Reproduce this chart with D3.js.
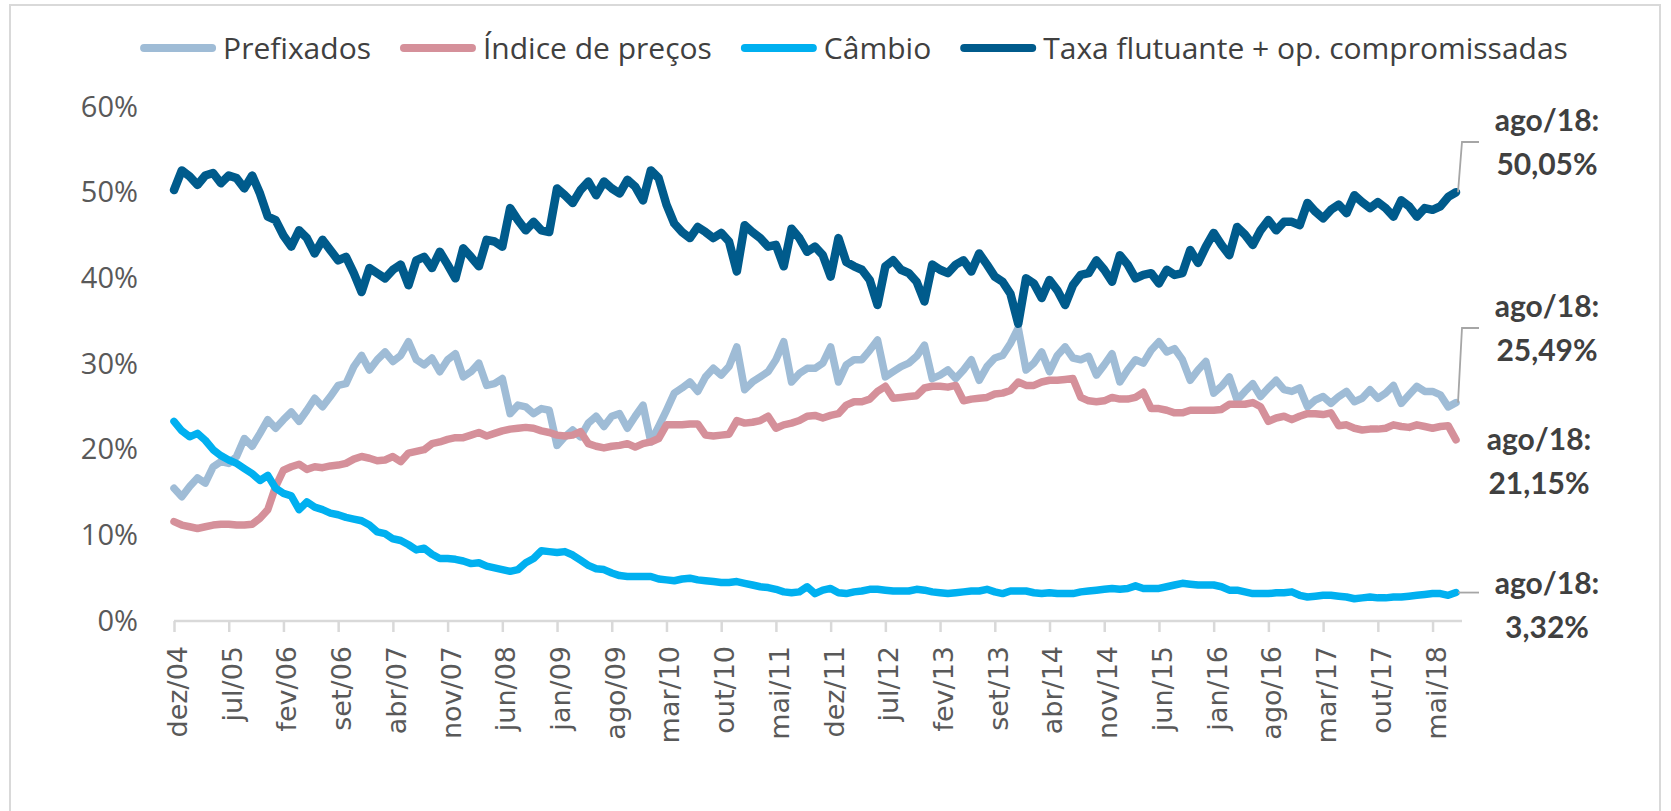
<!DOCTYPE html>
<html>
<head>
<meta charset="utf-8">
<script src="https://cdn.jsdelivr.net/npm/d3@7"></script>
<style>
  html, body { margin: 0; padding: 0; background: #fff; }
  svg { display: block; }
</style>
</head>
<body>
<div id="chart"></div>
<script>
// meses: dez/04 ... ago/18 (165 pontos)
const tickLabels = ["dez/04","jul/05","fev/06","set/06","abr/07","nov/07","jun/08","jan/09","ago/09","mar/10",
  "out/10","mai/11","dez/11","jul/12","fev/13","set/13","abr/14","nov/14","jun/15","jan/16",
  "ago/16","mar/17","out/17","mai/18"];
const yTicks = [0, 10, 20, 30, 40, 50, 60];

const prefixados = [
  15.5,14.5,15.7,16.7,16.1,18,18.6,18.4,19.2,21.3,
  20.4,21.9,23.5,22.5,23.5,24.4,23.3,24.6,26,25,
  26.2,27.5,27.7,29.7,31,29.3,30.5,31.4,30.3,31,
  32.6,30.5,29.9,30.7,29.1,30.5,31.2,28.5,29.1,30.1,
  27.5,27.7,28.3,24.2,25.2,25,24.2,24.8,24.6,20.5,
  21.5,22.3,21.5,23.1,23.9,22.7,23.9,24.2,22.5,23.9,
  25.2,20.9,22.7,24.6,26.6,27.2,27.9,26.8,28.5,29.5,
  28.7,29.7,32,27,27.9,28.5,29.1,30.5,32.6,27.9,
  28.9,29.5,29.5,30.1,32,27.9,29.9,30.5,30.5,31.6,
  32.8,28.5,29.1,29.7,30.1,30.9,32.2,28.3,28.7,29.3,
  28.3,29.3,30.5,28.1,29.7,30.7,31,32.4,34.2,29.3,
  30.1,31.4,29.1,31,32,30.7,30.5,30.9,28.7,29.9,
  31.2,27.9,29.3,30.5,30.1,31.6,32.6,31.4,31.8,30.5,
  28.1,29.3,30.3,26.6,27.4,28.5,25.8,26.8,27.7,26.2,
  27.2,28.1,27,26.8,27.2,25,25.8,26.2,25.4,26.2,
  26.8,25.6,26,27,26,26.6,27.5,25.4,26.4,27.4,
  26.8,26.8,26.4,25,25.49
];
const indicePrecos = [
  11.6,11.2,11,10.8,11,11.2,11.3,11.3,11.2,11.2,
  11.3,12,13,15.7,17.6,18,18.3,17.7,18,17.9,
  18.1,18.2,18.4,18.9,19.2,19,18.7,18.8,19.2,18.6,
  19.6,19.8,20,20.7,20.9,21.2,21.4,21.4,21.7,22,
  21.6,21.9,22.2,22.4,22.5,22.6,22.5,22.2,22,21.7,
  21.6,21.7,22.1,20.7,20.4,20.2,20.4,20.5,20.7,20.3,
  20.7,20.9,21.3,22.9,22.9,22.9,23,23,21.7,21.6,
  21.7,21.8,23.4,23.1,23.2,23.4,23.9,22.5,22.9,23.1,
  23.4,23.9,24,23.7,24,24.2,25.2,25.6,25.6,25.9,
  26.8,27.4,26,26.1,26.2,26.3,27.2,27.4,27.4,27.3,
  27.5,25.7,25.9,26,26.1,26.5,26.6,26.9,27.9,27.5,
  27.5,27.9,28.1,28.1,28.2,28.3,26.1,25.7,25.6,25.7,
  26.1,25.9,25.9,26.1,26.7,24.8,24.8,24.6,24.3,24.3,
  24.6,24.6,24.6,24.6,24.7,25.3,25.3,25.3,25.5,25,
  23.3,23.7,23.9,23.5,23.9,24.2,24.2,24.1,24.3,22.8,
  22.9,22.5,22.3,22.4,22.4,22.5,22.9,22.7,22.6,22.9,
  22.7,22.5,22.7,22.8,21.15
];
const cambio = [
  23.3,22.2,21.5,21.9,21.1,20,19.3,18.8,18.4,17.8,
  17.2,16.4,17,15.5,14.9,14.6,13,13.9,13.3,13,
  12.6,12.4,12.1,11.9,11.7,11.2,10.4,10.2,9.6,9.4,
  8.9,8.3,8.5,7.8,7.3,7.3,7.2,7,6.7,6.8,
  6.4,6.2,6,5.8,6,6.8,7.3,8.2,8.1,8,
  8.1,7.7,7.1,6.5,6.1,6,5.6,5.3,5.2,5.2,
  5.2,5.2,4.9,4.8,4.7,4.9,5,4.8,4.7,4.6,
  4.5,4.5,4.6,4.4,4.2,4,3.9,3.7,3.4,3.3,
  3.4,4,3.2,3.6,3.8,3.3,3.2,3.4,3.5,3.7,
  3.7,3.6,3.5,3.5,3.5,3.7,3.6,3.4,3.3,3.2,
  3.3,3.4,3.5,3.5,3.7,3.4,3.2,3.5,3.5,3.5,
  3.3,3.2,3.3,3.2,3.2,3.2,3.4,3.5,3.6,3.7,
  3.8,3.7,3.8,4.1,3.8,3.8,3.8,4,4.2,4.4,
  4.3,4.2,4.2,4.2,4,3.6,3.6,3.4,3.2,3.2,
  3.2,3.3,3.3,3.4,3,2.8,2.9,3,3,2.9,
  2.8,2.6,2.7,2.8,2.7,2.7,2.8,2.8,2.9,3,
  3.1,3.2,3.2,3,3.32
];
const taxaFlutuante = [
  50.3,52.6,51.9,50.9,52,52.3,51.1,52,51.7,50.5,
  52,49.9,47.2,46.8,45,43.7,45.6,44.7,42.9,44.5,
  43.3,42.1,42.5,40.6,38.4,41.2,40.6,40,41,41.6,
  39.2,42.1,42.5,41.2,43.1,41.6,40,43.5,42.5,41.4,
  44.5,44.3,43.7,48.2,46.8,45.6,46.6,45.6,45.4,50.5,
  49.7,48.8,50.3,51.3,49.7,51.3,50.5,49.9,51.5,50.7,
  49.1,52.6,51.7,48.6,46.4,45.4,44.7,46,45.4,44.7,
  45.3,44.3,40.8,46.2,45.4,44.7,43.7,43.9,41.4,45.8,
  44.7,43.1,43.7,42.7,40.2,44.7,41.9,41.4,41,39.8,
  36.9,41.4,42.1,41,40.6,39.6,37.3,41.6,41,40.6,
  41.6,42.1,40.8,42.9,41.6,40.2,39.6,38.2,34.7,40,
  39.4,37.7,39.8,38.6,36.9,39.2,40.4,40.6,42.1,41,
  39.6,42.7,41.6,40,40.4,40.6,39.4,41,40.4,40.6,
  43.3,41.8,43.7,45.3,43.9,42.7,46,45.1,43.9,45.6,
  46.8,45.6,46.6,46.6,46.2,48.8,47.8,47,48,48.6,
  47.6,49.7,48.9,48.2,48.9,48.2,47.2,49.1,48.4,47.2,
  48.2,48,48.4,49.5,50.05
];

const seriesNames = ["Prefixados", "Índice de preços", "Câmbio", "Taxa flutuante + op. compromissadas"];
const seriesColors = ["#9fbcd6", "#d5909a", "#00b0f0", "#005b8c"];
const seriesValues = [prefixados, indicePrecos, cambio, taxaFlutuante];

// rótulos do último ponto (ago/18)
const lastLabels = ["25,49%", "21,15%", "3,32%", "50,05%"];

const W = 1671, H = 811;
const svg = d3.select("#chart").append("svg")
  .attr("width", W).attr("height", H);

// moldura
svg.append("rect")
  .attr("x", 10).attr("y", 5).attr("width", 1650).attr("height", 830)
  .attr("fill", "none").attr("stroke", "#d9d9d9").attr("stroke-width", 2);

const n = prefixados.length;
const x = d3.scaleLinear().domain([0, n - 1]).range([174, 1456]);
const y = d3.scaleLinear().domain([0, 60]).range([621, 107]);

// eixo y
const yAxis = svg.append("g")
  .attr("transform", "translate(138,0)")
  .call(d3.axisLeft(y).tickValues(yTicks).tickSize(0).tickPadding(0).tickFormat(d => d + "%"));
yAxis.select(".domain").remove();
yAxis.selectAll("text")
  .attr("fill", "#595959")
  .style("font-family", "'Open Sans', sans-serif")
  .style("font-size", "29px");

// eixo x
const tickIdx = tickLabels.map((d, i) => i * 7);
const xAxis = svg.append("g")
  .attr("transform", "translate(0,621)")
  .call(d3.axisBottom(x).tickValues(tickIdx).tickSize(11).tickSizeOuter(0)
    .tickFormat((d, i) => tickLabels[i]));
xAxis.select(".domain").attr("stroke", "#d9d9d9").attr("stroke-width", 2.5)
  .attr("d", `M${x(0)},0H${x(n - 1) + 6}`);
xAxis.selectAll(".tick line").attr("stroke", "#d9d9d9").attr("stroke-width", 2.5);
xAxis.selectAll(".tick text")
  .attr("fill", "#595959")
  .attr("text-anchor", "end")
  .attr("transform", "translate(3,25) rotate(-90)")
  .attr("x", 0).attr("y", 0).attr("dy", "0.35em")
  .style("font-family", "'DejaVu Sans', sans-serif")
  .style("font-size", "27px");

// linhas
const line = d3.line().x((d, i) => x(i)).y(d => y(d));
svg.append("g").selectAll("path")
  .data(seriesValues)
  .join("path")
  .attr("d", line)
  .attr("fill", "none")
  .attr("stroke", (d, i) => seriesColors[i])
  .attr("stroke-width", (d, i) => i === 3 ? 8.5 : 7.5)
  .attr("stroke-linejoin", "round")
  .attr("stroke-linecap", "round");

// legenda
const legend = svg.append("g").attr("transform", "translate(0,48)");
const items = [];
seriesNames.forEach((name, i) => {
  const g = legend.append("g");
  g.append("line")
    .attr("x1", 4).attr("x2", 72).attr("y1", 0).attr("y2", 0)
    .attr("stroke", seriesColors[i]).attr("stroke-width", 8).attr("stroke-linecap", "round");
  const t = g.append("text")
    .attr("x", 83).attr("y", 0).attr("dy", "0.35em")
    .attr("fill", "#404040")
    .style("font-family", "'Open Sans', sans-serif")
    .style("font-size", "30px")
    .text(name);
  items.push({ g, w: 83 + t.node().getComputedTextLength() });
});
const gap = 29;
const totalW = d3.sum(items, d => d.w) + gap * (items.length - 1);
let lx = 854 - totalW / 2;
items.forEach(it => {
  it.g.attr("transform", `translate(${lx},0)`);
  lx += it.w + gap;
});

// anotações ago/18
const xe = x(n - 1);
const labelFont = "'Lato', 'Open Sans', sans-serif";
const ann = [
  { s: 3, top: 131, lead: 142, cx: 1547 },
  { s: 0, top: 317, lead: 328, cx: 1547 },
  { s: 1, top: 450, lead: null, cx: 1539 },
  { s: 2, top: 594, lead: 604, cx: 1547 }
];
const annG = svg.append("g");
ann.forEach(a => {
  const vy = y(seriesValues[a.s][n - 1]);
  if (a.lead !== null) {
    const p = a.s === 2
      ? `M${xe + 2},${vy}H1479`
      : `M${xe + 2},${vy}L${xe + 6},${a.lead}H1479`;
    annG.append("path").attr("d", p)
      .attr("fill", "none").attr("stroke", "#a6a6a6").attr("stroke-width", 1.8);
  }
  const t = annG.append("text")
    .attr("text-anchor", "middle")
    .attr("fill", "#404040")
    .style("font-family", labelFont)
    .style("font-weight", "bold")
    .style("font-size", "30px");
  t.append("tspan").attr("x", a.cx).attr("y", a.top).text("ago/18:");
  t.append("tspan").attr("x", a.cx).attr("y", a.top + 44).text(lastLabels[a.s]);
});
</script>
</body>
</html>
